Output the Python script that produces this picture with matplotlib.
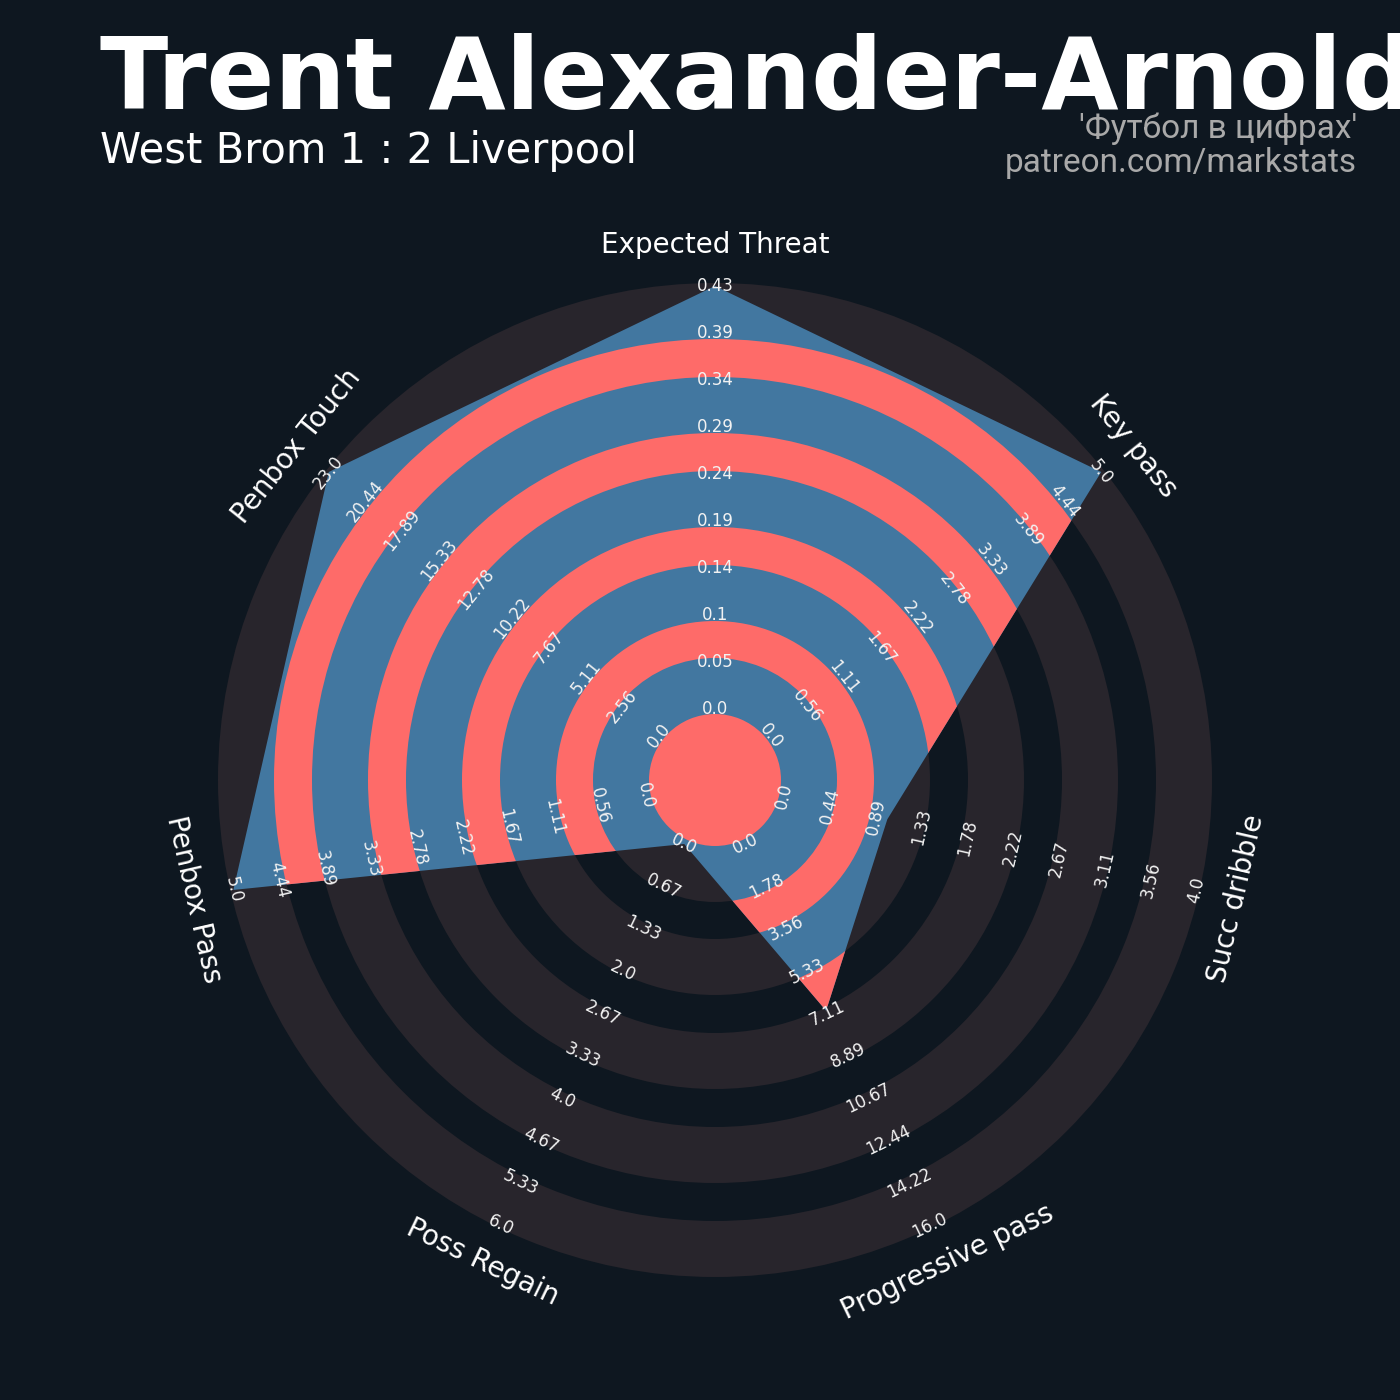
import numpy as np
import matplotlib
matplotlib.use("Agg")
import matplotlib.pyplot as plt
from matplotlib.patches import Wedge, Polygon

# radar data
params = ["Expected Threat", "Key pass", "Succ dribble", "Progressive pass",
          "Poss Regain", "Penbox Pass", "Penbox Touch"]
min_range = [0, 0, 0, 0, 0, 0, 0]
max_range = [0.434, 5, 4, 16, 6, 5, 23]
values = [0.434, 5, 1, 7, 0, 5, 23]

title = "Trent Alexander-Arnold"
subtitle = "West Brom 1 : 2 Liverpool"
credits = "'Футбол в цифрах'\npatreon.com/markstats"

bg = "#0e1720"
ring_dark = "#28252c"
fill_blue = "#4277a0"
fill_red = "#fe6b69"

# ring edges (pixels from centre); type A = dark/blue, type B = bg/red
edges = [0, 66, 122, 159, 215, 253, 309, 347, 403, 441, 497]
r_min, r_max = 71, 494   # radius of value min / value max
n_ticks = 10

fig = plt.figure(figsize=(14, 14), dpi=100, facecolor=bg)
ax = fig.add_axes([0, 0, 1, 1])
ax.set_facecolor(bg)
ax.set_xlim(-715, 685)
ax.set_ylim(-620, 780)
ax.axis("off")

# background rings
for k in range(len(edges) - 1):
    if k % 2 == 1:
        ax.add_patch(Wedge((0, 0), edges[k + 1], 0, 360,
                           width=edges[k + 1] - edges[k],
                           facecolor=ring_dark, edgecolor="none", zorder=1))

n = len(params)
theta = np.deg2rad(90 - np.arange(n) * 360 / n)


def to_radius(v, lo, hi):
    return r_min + (min(v, hi) - lo) / (hi - lo) * (r_max - r_min)


rad = np.array([to_radius(v, lo, hi) for v, lo, hi in zip(values, min_range, max_range)])
verts = np.column_stack([rad * np.cos(theta), rad * np.sin(theta)])
poly = Polygon(verts, closed=True, facecolor=fill_blue, edgecolor="none", zorder=2)
ax.add_patch(poly)

# red rings inside the radar
for k in range(len(edges) - 1):
    if k % 2 == 0:
        w = Wedge((0, 0), edges[k + 1], 0, 360, width=edges[k + 1] - edges[k],
                  facecolor=fill_red, edgecolor="none", zorder=3)
        ax.add_patch(w)
        w.set_clip_path(poly)


def text_rot(t):
    rot = np.rad2deg(t) - 90
    rot = (rot + 180) % 360 - 180
    if rot < -90 or rot > 90:
        rot = (rot + 360) % 360 - 180
    return rot


# tick labels and param labels
for i in range(n):
    t = theta[i]
    rot = text_rot(t)
    for k in range(n_ticks):
        val = min_range[i] + k * (max_range[i] - min_range[i]) / (n_ticks - 1)
        r = r_min + k * (r_max - r_min) / (n_ticks - 1)
        ax.text(r * np.cos(t), r * np.sin(t), str(round(val, 2)),
                rotation=rot, rotation_mode="anchor", ha="center", va="center",
                fontsize=12, color="#f2f2f2", zorder=5)
    rl = 535
    ax.text(rl * np.cos(t), rl * np.sin(t), params[i], rotation=rot,
            rotation_mode="anchor", ha="center", va="center",
            fontsize=20, color="white", zorder=5)

fig.text(100 / 1400, 1 - 108 / 1400, title, fontsize=72, fontweight="bold",
         color="white", ha="left", va="baseline")
fig.text(100 / 1400, 1 - 163 / 1400, subtitle, fontsize=30, color="white",
         ha="left", va="baseline")
fig.text(1357 / 1400, 1 - 172 / 1400, credits, fontsize=24, color="#a9a9a9",
         family="Roboto", ha="right", va="baseline", ma="right", linespacing=1.08)

fig.savefig("out.png", dpi=100, facecolor=bg)
